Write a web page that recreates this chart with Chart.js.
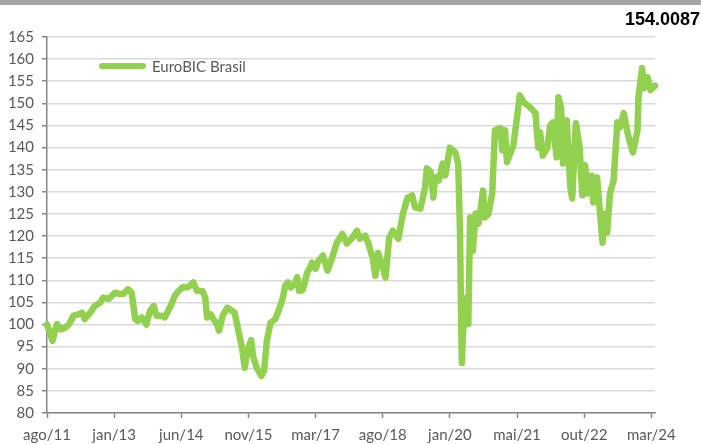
<!DOCTYPE html>
<html>
<head>
<meta charset="utf-8">
<script src="https://cdn.jsdelivr.net/npm/chart.js@4/dist/chart.umd.min.js"></script>
<style>
  body { margin: 0; background: #fff; }
  #wrap { position: relative; width: 701px; height: 444px; }
  #topbar { position: absolute; left: 0; top: 0; width: 701px; height: 5px; background: #a6a6a6; }
  #lastValue { position: absolute; right: 1px; top: 10px; font: bold 18px 'Liberation Sans', Arial, sans-serif; line-height: 18px; color: #000; }
  #legendLine { position: absolute; left: 99px; top: 63px; width: 47px; height: 6px; border-radius: 3px; background: #92d050; }
  #legendText { position: absolute; left: 152px; top: 57px; font: 15px Lato, sans-serif; line-height: 18px; color: #595959; }
</style>
</head>
<body>
<div id="wrap">
  <canvas id="chart" width="701" height="444"></canvas>
  <div id="topbar"></div>
  <div id="lastValue">154.0087</div>
  <div id="legendLine"></div>
  <div id="legendText">EuroBIC Brasil</div>
</div>
<script>
// weekly index since ago/11 (one label every 73 weeks)
const tickWeeks = [0, 73, 146, 219, 292, 365, 438, 511, 584, 657];
const tickLabels = ['ago/11', 'jan/13', 'jun/14', 'nov/15', 'mar/17', 'ago/18', 'jan/20', 'mai/21', 'out/22', 'mar/24'];

const weeks = [
    0, 3, 6, 9, 11, 15, 20, 24, 29, 34, 38, 41, 47, 52, 58, 61, 67, 74, 79, 83,
    88, 92, 96, 99, 103, 108, 112, 116, 119, 125, 128, 134, 139, 143, 148, 153, 159, 163, 169, 172,
    174, 178, 181, 185, 187, 191, 196, 201, 204, 208, 212, 215, 218, 222, 224, 228, 233, 236, 239, 243,
    248, 251, 256, 259, 262, 265, 269, 272, 274, 278, 283, 286, 288, 292, 295, 300, 305, 310, 315, 321,
    326, 332, 337, 340, 346, 349, 354, 357, 360, 364, 368, 372, 376, 382, 387, 392, 397, 400, 406, 411,
    413, 417, 420, 422, 426, 430, 433, 438, 444, 447, 449, 450, 451, 452, 455, 458, 460, 463, 466, 469,
    471, 474, 476, 480, 484, 487, 493, 495, 498, 500, 507, 511, 514, 518, 525, 531, 534, 536, 539, 544,
    547, 550, 554, 556, 559, 561, 565, 569, 571, 575, 579, 582, 585, 588, 592, 594, 598, 601, 604, 607,
    609, 612, 616, 620, 623, 627, 631, 634, 637, 642, 643, 647, 649, 653, 656, 661
];
const values = [
    100, 98.2, 96.3, 98.9, 100.1, 98.9, 99.3, 100.1, 102, 102.3, 102.7, 101.2, 102.7, 104.2, 105, 106.1, 105.8, 107.2, 106.9, 106.9,
    108, 107.2, 101.2, 100.8, 101.6, 100, 103.1, 104.2, 102, 102, 101.6, 104, 106.5, 107.6, 108.5, 108.4, 109.5, 107.6, 107.6, 106.1,
    101.6, 102.3, 101.2, 100, 98.6, 102, 103.8, 103.1, 102.7, 98.6, 94.8, 90.2, 94, 96.5, 92.9, 90.2, 88.4, 89.5, 96.3, 100.4,
    101.2, 102.7, 105.7, 108.8, 109.5, 108.4, 109.2, 110.7, 107.6, 107.8, 111.8, 112.9, 114, 112.6, 114.4, 115.6, 112.2, 115.1, 118.5, 120.5,
    118.3, 119.6, 121.2, 119.4, 120.1, 118.5, 115.1, 111, 116.2, 113.7, 110.6, 119.6, 121.2, 119.4, 125.1, 128.7, 129.2, 126.5, 126.2, 131,
    135.3, 134.5, 128.7, 133.3, 132.6, 136.4, 133.7, 140, 138.9, 136.4, 121.2, 103.8, 91.3, 97, 106, 100.1, 124.2, 116.7, 125.1, 122.8,
    125.3, 130.3, 124.2, 125, 129.6, 143.9, 144.4, 139.4, 143.9, 136.7, 140.5, 146.9, 151.8, 150.3, 149.1, 147.8, 140, 143.5, 138.2, 140,
    145, 145.7, 137.8, 151.4, 148.9, 136.4, 146.2, 131, 128.5, 145.5, 140.1, 129.2, 136, 129.6, 133.7, 127.6, 133.3, 125.8, 118.5, 125.1,
    120.8, 129.6, 132.6, 145.7, 144.6, 147.8, 143.5, 141, 138.9, 143.9, 151.4, 158, 153.4, 155.9, 153, 154
];

const seriesName = 'EuroBIC Brasil';
const yMin = 80;
const yMax = 165;
const yStep = 5;

const points = weeks.map((w, i) => ({ x: w, y: values[i] }));

const axisGray = '#868686';
const labelFont = { family: 'Lato', size: 15 };

new Chart(document.getElementById('chart'), {
    type: 'line',
    data: {
        datasets: [{
            label: seriesName,
            data: points,
            borderColor: '#92d050',
            borderWidth: 6.5,
            pointRadius: 0,
            tension: 0,
            borderJoinStyle: 'round',
            borderCapStyle: 'round',
            clip: false
        }]
    },
    options: {
        responsive: false,
        animation: false,
        layout: { padding: { top: 37, right: 46, left: 0, bottom: 0 } },
        plugins: {
            legend: { display: false },
            tooltip: { enabled: false }
        },
        scales: {
            x: {
                type: 'linear',
                min: tickWeeks[0],
                max: 661,
                afterBuildTicks: (scale) => {
                    scale.ticks = tickWeeks.map(v => ({ value: v }));
                },
                afterFit: (scale) => { scale.height = 31; },
                ticks: {
                    autoSkip: false,
                    maxRotation: 0,
                    padding: 8,
                    color: '#595959',
                    font: labelFont,
                    callback: (value, index) => tickLabels[index]
                },
                grid: {
                    drawOnChartArea: false,
                    drawTicks: true,
                    tickLength: 5,
                    tickColor: axisGray,
                    tickWidth: 1.5
                },
                border: { color: axisGray, width: 1.5 }
            },
            y: {
                min: yMin,
                max: yMax,
                afterFit: (scale) => { scale.width = 47; },
                ticks: {
                    stepSize: yStep,
                    padding: 8,
                    color: '#595959',
                    font: labelFont
                },
                grid: {
                    color: '#d9d9d9',
                    lineWidth: 1.5,
                    tickLength: 5,
                    tickColor: axisGray,
                    tickWidth: 1.5
                },
                border: { color: axisGray, width: 1.5 }
            }
        }
    }
});
</script>
</body>
</html>
